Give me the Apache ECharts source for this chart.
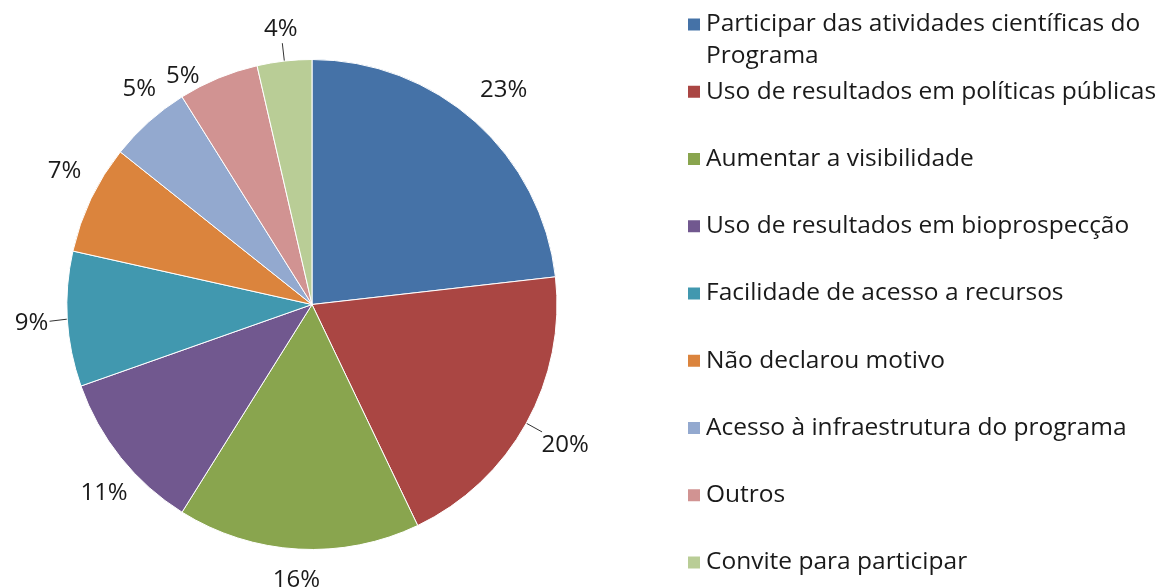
<!DOCTYPE html>
<html>
<head>
<meta charset="utf-8">
<script src="https://cdn.jsdelivr.net/npm/echarts@6/dist/echarts.min.js"></script>
<style>
html,body{margin:0;padding:0;background:#fff;}
#chart{width:1170px;height:587px;}
</style>
</head>
<body>
<div id="chart"></div>
<script>
const categories = [
  "Participar das atividades científicas do Programa",
  "Uso de resultados em políticas públicas",
  "Aumentar a visibilidade",
  "Uso de resultados em bioprospecção",
  "Facilidade de acesso a recursos",
  "Não declarou motivo",
  "Acesso à infraestrutura do programa",
  "Outros",
  "Convite para participar"
];
const values = [23.2, 19.7, 16.0, 10.7, 8.9, 7.2, 5.4, 5.3, 3.6];
const colors = ["#4572A7", "#AA4643", "#89A54E", "#71588F", "#4198AF", "#DB843D", "#93A9CF", "#D19392", "#B9CD96"];
const withLine = [false, true, false, false, true, false, false, false, true];

const FONT = "Open Sans";
const chart = echarts.init(document.getElementById('chart'), null, {renderer: 'canvas'});

const data = categories.map((name, i) => ({
  name: name,
  value: values[i],
  itemStyle: {color: colors[i]},
  labelLine: {show: withLine[i]}
}));

chart.setOption({
  animation: false,
  legend: {
    orient: 'vertical',
    left: 686,
    top: 12,
    bottom: 0,
    padding: 0,
    itemWidth: 14,
    itemHeight: 14,
    itemGap: 42.25,
    icon: 'rect',
    selectedMode: false,
    formatter: function (name) {
      return name === categories[0] ? "Participar das atividades científicas do" : name;
    },
    textStyle: {fontFamily: FONT, fontSize: 24.5, color: '#1a1a1a', lineHeight: 24},
    data: categories
  },
  graphic: [{
    type: 'text',
    x: 706,
    y: 56,
    style: {text: "Programa", font: "24.5px '" + FONT + "'", fill: '#1a1a1a', verticalAlign: 'middle'}
  }],
  series: [{
    type: 'pie',
    center: [312, 304.5],
    radius: 245,
    startAngle: 90,
    clockwise: true,
    itemStyle: {borderColor: '#ffffff', borderWidth: 1},
    label: {
      show: true,
      position: 'outside',
      formatter: function (p) { return Math.round(p.value) + '%'; },
      fontFamily: FONT,
      fontSize: 24,
      color: '#1a1a1a'
    },
    labelLine: {length: 10, length2: 4, lineStyle: {color: '#333', width: 1}},
    labelLayout: function (p) {
      const pts = p.labelLinePoints;
      if (!pts) return {};
      const dx = pts[1][0] - pts[0][0], dy = pts[1][1] - pts[0][1];
      const len = Math.sqrt(dx * dx + dy * dy) || 1;
      const ux = dx / len, uy = dy / len;
      const hw = p.labelRect.width / 2, hh = p.labelRect.height / 2;
      const ext = hw * Math.abs(ux) + hh * Math.abs(uy);
      const d = 18 + ext;
      const cx = pts[0][0] + ux * d, cy = pts[0][1] + uy * d;
      const ex = cx - ux * ext, ey = cy - uy * ext;
      return {
        x: cx, y: cy, align: 'center', verticalAlign: 'middle',
        labelLinePoints: [[pts[0][0], pts[0][1]], [ex, ey], [ex, ey]]
      };
    },
    data: data
  }]
});
</script>
</body>
</html>
